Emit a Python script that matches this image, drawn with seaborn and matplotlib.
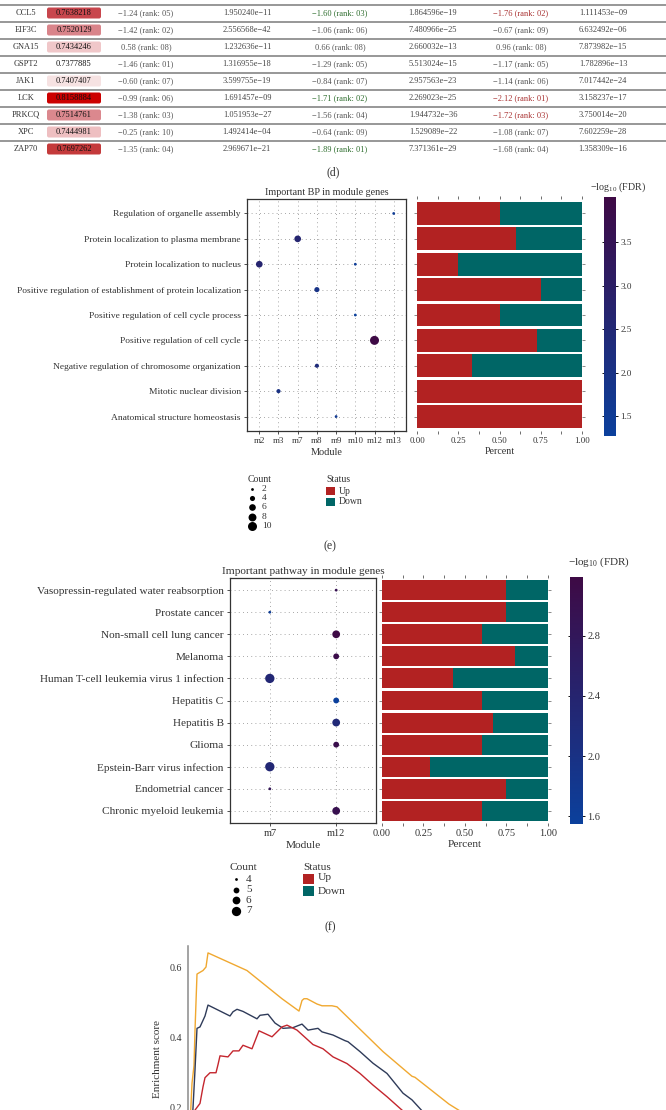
import numpy as np
import pandas as pd
import matplotlib
matplotlib.use("Agg")
import matplotlib.pyplot as plt
import seaborn as sns
from matplotlib.colors import LinearSegmentedColormap, Normalize
from matplotlib.patches import FancyBboxPatch, Rectangle
from matplotlib.ticker import FormatStrFormatter, MultipleLocator

# ------------------------------------------------------------------ data
genes = ['CCL5', 'EIF3C', 'GNA15', 'GSPT2', 'JAK1', 'LCK', 'PRKCQ', 'XPC', 'ZAP70']
auc = [0.7638218, 0.7520129, 0.7434246, 0.7377885, 0.7407407, 0.8158884, 0.7514761, 0.7444981, 0.7697262]
lfc1 = [-1.24, -1.42, 0.58, -1.46, -0.60, -0.99, -1.38, -0.25, -1.35]
rank1 = [5, 2, 8, 1, 7, 6, 3, 10, 4]
padj1 = ['1.950240e−11', '2.556568e−42', '1.232636e−11', '1.316955e−18', '3.599755e−19',
         '1.691457e−09', '1.051953e−27', '1.492414e−04', '2.969671e−21']
lfc2 = [-1.60, -1.06, 0.66, -1.29, -0.84, -1.71, -1.56, -0.64, -1.89]
rank2 = [3, 6, 8, 5, 7, 2, 4, 9, 1]
padj2 = ['1.864596e−19', '7.480966e−25', '2.660032e−13', '5.513024e−15', '2.957563e−23',
         '2.269023e−25', '1.944732e−36', '1.529089e−22', '7.371361e−29']
lfc3 = [-1.76, -0.67, 0.96, -1.17, -1.14, -2.12, -1.72, -1.08, -1.68]
rank3 = [2, 9, 8, 5, 6, 1, 3, 7, 4]
padj3 = ['1.111453e−09', '6.632492e−06', '7.873982e−15', '1.782896e−13', '7.017442e−24',
         '3.158237e−17', '3.750014e−20', '7.602259e−28', '1.358309e−16']

bp_terms = ['Regulation of organelle assembly', 'Protein localization to plasma membrane',
            'Protein localization to nucleus',
            'Positive regulation of establishment of protein localization',
            'Positive regulation of cell cycle process', 'Positive regulation of cell cycle',
            'Negative regulation of chromosome organization', 'Mitotic nuclear division',
            'Anatomical structure homeostasis']
bp_modules = ['m2', 'm3', 'm7', 'm8', 'm9', 'm10', 'm12', 'm13']
bp_dot_term = ['Regulation of organelle assembly', 'Protein localization to plasma membrane',
               'Protein localization to nucleus', 'Protein localization to nucleus',
               'Positive regulation of establishment of protein localization',
               'Positive regulation of cell cycle process', 'Positive regulation of cell cycle',
               'Negative regulation of chromosome organization', 'Mitotic nuclear division',
               'Anatomical structure homeostasis']
bp_dot_module = ['m13', 'm7', 'm2', 'm10', 'm8', 'm10', 'm12', 'm8', 'm3', 'm9']
bp_dot_count = [2, 6, 6, 2, 4, 2, 10, 3, 3, 2]
bp_dot_fdr = [1.50, 2.65, 2.70, 1.45, 1.95, 1.27, 4.02, 2.35, 2.05, 1.60]
bp_up = [0.50, 0.60, 0.25, 0.75, 0.50, 0.727, 0.333, 1.00, 1.00]
bp_count_legend = [2, 4, 6, 8, 10]

pw_terms = ['Vasopressin-regulated water reabsorption', 'Prostate cancer',
            'Non-small cell lung cancer', 'Melanoma', 'Human T-cell leukemia virus 1 infection',
            'Hepatitis C', 'Hepatitis B', 'Glioma', 'Epstein-Barr virus infection',
            'Endometrial cancer', 'Chronic myeloid leukemia']
pw_modules = ['m7', 'm12']
pw_dot_module = ['m12', 'm7', 'm12', 'm12', 'm7', 'm12', 'm12', 'm12', 'm7', 'm7', 'm12']
pw_dot_count = [4, 4, 6, 5, 7, 5, 6, 5, 7, 4, 6]
pw_dot_fdr = [2.95, 1.65, 3.19, 3.10, 2.30, 1.55, 2.25, 3.05, 2.30, 2.85, 3.00]
pw_up = [0.75, 0.75, 0.60, 0.80, 0.43, 0.60, 0.67, 0.60, 0.29, 0.75, 0.60]
pw_count_legend = [4, 5, 6, 7]

es_orange_rank = [0, 90, 180, 270, 315, 405, 675, 810, 900, 2655, 4230, 4995, 5130, 5220, 5355,
                  5805, 6030, 6480, 6705, 8775, 10080, 10215, 11745, 12915, 14940, 16200]
es_orange = [0.0, 0.15, 0.27, 0.32, 0.42, 0.58, 0.59, 0.60, 0.64, 0.59, 0.51, 0.475, 0.505, 0.51,
             0.51, 0.495, 0.49, 0.49, 0.487, 0.36, 0.29, 0.287, 0.211, 0.165, 0.06, 0.0]
es_navy_rank = [45, 135, 225, 315, 405, 540, 765, 900, 1125, 1890, 2025, 2205, 2475, 3105, 3240,
                3600, 3915, 4275, 4725, 5130, 5400, 5850, 6030, 6525, 7065, 7200, 7740, 8325,
                8955, 9675, 10080, 10575, 11790, 14040, 14715]
es_navy = [0.0, 0.12, 0.2, 0.308, 0.426, 0.43, 0.461, 0.492, 0.485, 0.461, 0.473, 0.48, 0.474,
           0.453, 0.463, 0.466, 0.441, 0.426, 0.428, 0.438, 0.421, 0.426, 0.416, 0.407, 0.391,
           0.388, 0.36, 0.327, 0.298, 0.242, 0.223, 0.189, 0.13, 0.03, 0.0]
es_red_rank = [90, 180, 270, 315, 540, 675, 765, 990, 1260, 1350, 1440, 1800, 2025, 2295, 2475,
               2880, 3195, 3780, 4230, 4455, 4905, 5625, 6075, 6525, 7155, 7740, 8325, 8955,
               9630, 10890, 13140, 13815]
es_red = [0.0, 0.08, 0.15, 0.194, 0.213, 0.26, 0.286, 0.30, 0.30, 0.323, 0.348, 0.345, 0.362,
          0.362, 0.378, 0.368, 0.419, 0.402, 0.43, 0.435, 0.421, 0.38, 0.368, 0.345, 0.326,
          0.298, 0.265, 0.232, 0.194, 0.13, 0.03, 0.0]

# ------------------------------------------------------------------ style
sns.set_style("white")
plt.rcParams['font.family'] = ['Liberation Serif', 'DejaVu Serif']
plt.rcParams['mathtext.fontset'] = 'custom'
plt.rcParams['mathtext.rm'] = 'Liberation Serif'
plt.rcParams['mathtext.it'] = 'Liberation Serif:italic'

RED = '#B22222'
TEAL = '#006666'
TXT = '#333333'
fdr_cmap = LinearSegmentedColormap.from_list('fdr', ['#0B409C', '#3E0A45'])
auc_cmap = LinearSegmentedColormap.from_list(
    'auc', [(0, '#ffffff'), (0.04, '#f5dede'), (0.08, '#eec0c2'), (0.18, '#d9848a'),
            (0.33, '#c8474e'), (0.41, '#c43a3a'), (1.0, '#cc0000')])

W, H = 666, 1110
fig = plt.figure(figsize=(W / 100, H / 100), dpi=100)


def rect(x0, y0, x1, y1):
    return [x0 / W, 1 - y1 / H, (x1 - x0) / W, (y1 - y0) / H]


ov = fig.add_axes([0, 0, 1, 1])
ov.set_xlim(0, W)
ov.set_ylim(H, 0)
ov.axis('off')

# ------------------------------------------------------------------ (d) table
fs_t = 6.0
auc_norm = Normalize(min(auc), max(auc))
col_x = [26, 74, 146, 247, 340, 433, 521, 603]


def fmt(v, r):
    return f'{v:.2f} (rank: {r:02d})'.replace('-', '−')


for i, g in enumerate(genes):
    y = 13 + 17 * i
    ov.plot([0, W], [y - 8.5, y - 8.5], color='#8f8f8f', lw=1.3, zorder=1)
    ov.add_patch(FancyBboxPatch((47, y - 5.5), 54, 11,
                                boxstyle='round,pad=0,rounding_size=2',
                                fc=auc_cmap(auc_norm(auc[i])), ec='none'))
    ov.text(col_x[0], y, g, ha='center', va='center', fontsize=fs_t, color=TXT)
    ov.text(col_x[1], y, f'{auc[i]:.7f}', ha='center', va='center', fontsize=fs_t, color='#111')
    ov.text(col_x[2], y, fmt(lfc1[i], rank1[i]), ha='center', va='center', fontsize=fs_t, color='#555')
    ov.text(col_x[3], y, padj1[i], ha='center', va='center', fontsize=fs_t, color='#444')
    ov.text(col_x[4], y, fmt(lfc2[i], rank2[i]), ha='center', va='center', fontsize=fs_t,
            color='#2f6e2f' if rank2[i] <= 3 else '#555')
    ov.text(col_x[5], y, padj2[i], ha='center', va='center', fontsize=fs_t, color='#444')
    ov.text(col_x[6], y, fmt(lfc3[i], rank3[i]), ha='center', va='center', fontsize=fs_t,
            color='#a83030' if rank3[i] <= 3 else '#555')
    ov.text(col_x[7], y, padj3[i], ha='center', va='center', fontsize=fs_t, color='#444')

ov.text(333, 172, '(d)', ha='center', va='center', fontsize=8.5, color=TXT)


# ------------------------------------------------------------------ helpers
def dot_panel(ax, terms, modules, dterm, dmod, dcount, dfdr, norm, sizes, size_norm,
              fs_lab, fs_tick, pad):
    df = pd.DataFrame({'term': dterm, 'module': dmod, 'count': dcount, 'fdr': dfdr})
    df['x'] = df['module'].map({m: k for k, m in enumerate(modules)})
    df['y'] = df['term'].map({t: k for k, t in enumerate(terms)})
    sns.scatterplot(data=df, x='x', y='y', hue='fdr', palette=fdr_cmap, hue_norm=norm,
                    size='count', sizes=sizes, size_norm=size_norm, legend=False,
                    linewidth=0, ax=ax, zorder=3)
    ax.set_xticks(range(len(modules)))
    ax.set_xticklabels(modules, fontsize=fs_tick, color=TXT)
    ax.set_yticks(range(len(terms)))
    ax.set_yticklabels(terms, fontsize=fs_lab, color=TXT)
    ax.set_xlim(-pad[0], len(modules) - 1 + pad[0])
    ax.set_ylim(len(terms) - 1 + pad[1], -pad[1])
    ax.grid(True, color='#8a8a8a', lw=0.6, linestyle=(0, (1, 4)))
    ax.set_axisbelow(True)
    for s in ax.spines.values():
        s.set_color('#333')
        s.set_linewidth(0.9)
    ax.tick_params(axis='both', length=2.5, width=0.6, color='#333', pad=2,
                   left=True, bottom=True)
    ax.set_ylabel('')


def bar_panel(ax, terms, up, ylim, fs_tick, fs_lab):
    df = pd.DataFrame({'term': terms, 'up': up, 'total': [1.0] * len(terms)})
    sns.barplot(data=df, x='total', y='term', order=terms, color=TEAL, width=0.9,
                saturation=1, errorbar=None, linewidth=0, ax=ax)
    sns.barplot(data=df, x='up', y='term', order=terms, color=RED, width=0.9,
                saturation=1, errorbar=None, linewidth=0, ax=ax)
    ax.set_xlim(0, 1)
    ax.set_ylim(*ylim)
    ax.set_yticks(range(len(terms)))
    ax.set_yticklabels([])
    ax.set_ylabel('')
    ax.set_xticks([0, 0.25, 0.5, 0.75, 1.0])
    ax.xaxis.set_major_formatter(FormatStrFormatter('%.2f'))
    ax.xaxis.set_minor_locator(MultipleLocator(0.125))
    ax.tick_params(axis='x', which='both', length=2, width=0.6, color='#555',
                   labelsize=fs_tick, labelcolor=TXT, pad=2, bottom=True, top=True)
    ax.tick_params(axis='y', length=2, width=0.6, color='#777', left=True, right=True)
    for s in ax.spines.values():
        s.set_visible(False)
    ax.set_xlabel('Percent', fontsize=fs_lab, color=TXT, labelpad=2)


def colorbar(cax, norm, ticks, fs):
    sm = plt.cm.ScalarMappable(norm=norm, cmap=fdr_cmap)
    cb = fig.colorbar(sm, cax=cax)
    cb.outline.set_visible(False)
    cb.set_ticks(ticks)
    cax.yaxis.set_major_formatter(FormatStrFormatter('%.1f'))
    cax.tick_params(axis='y', length=2.5, width=0.7, color='#111', labelsize=fs,
                    labelcolor=TXT, left=True, right=True, direction='inout', pad=2)


def size_of(c, sizes, size_norm):
    return sizes[0] + (c - size_norm[0]) / (size_norm[1] - size_norm[0]) * (sizes[1] - sizes[0])


# ------------------------------------------------------------------ (e)
bp_norm = Normalize(min(bp_dot_fdr), max(bp_dot_fdr))
ax_e = fig.add_axes(rect(247, 199, 406, 431))
dot_panel(ax_e, bp_terms, bp_modules, bp_dot_term, bp_dot_module, bp_dot_count, bp_dot_fdr,
          bp_norm, (4, 42), (2, 10), 6.8, 6.4, (0.64, 0.57))
ax_e.set_xlabel('Module', fontsize=7.4, color=TXT, labelpad=2)
ax_e.set_title('Important BP in module genes', fontsize=7.3, color=TXT, pad=3)

ax_eb = fig.add_axes(rect(417, 199, 582, 431))
bar_panel(ax_eb, bp_terms, bp_up, ax_e.get_ylim(), 6.4, 7.2)

cax_e = fig.add_axes(rect(604, 197, 616, 436))
colorbar(cax_e, bp_norm, [1.5, 2.0, 2.5, 3.0, 3.5], 6.6)
ov.text(618, 194, r'$\mathrm{-log_{10}}$ (FDR)', ha='center', va='bottom', fontsize=7.2, color=TXT)

ov.text(248, 480, 'Count', ha='left', va='center', fontsize=7, color=TXT)
for k, c in enumerate(bp_count_legend):
    yy = 489 + 9.2 * k
    ov.scatter(252, yy, s=size_of(c, (4, 42), (2, 10)), color='black', lw=0)
    ov.text(262, yy, str(c), ha='left', va='center', fontsize=6.8, color=TXT)
ov.text(326, 480, 'Status', ha='left', va='center', fontsize=7, color=TXT)
ov.add_patch(Rectangle((326, 487), 9, 8, fc=RED, ec='none'))
ov.add_patch(Rectangle((326, 498), 9, 8, fc=TEAL, ec='none'))
ov.text(339, 491, 'Up', ha='left', va='center', fontsize=7, color=TXT)
ov.text(339, 502, 'Down', ha='left', va='center', fontsize=7, color=TXT)
ov.text(330, 546, '(e)', ha='center', va='center', fontsize=8.5, color=TXT)

# ------------------------------------------------------------------ (f)
pw_norm = Normalize(min(pw_dot_fdr), max(pw_dot_fdr))
ax_f = fig.add_axes(rect(230, 578, 376, 823))
dot_panel(ax_f, pw_terms, pw_modules, pw_terms, pw_dot_module, pw_dot_count, pw_dot_fdr,
          pw_norm, (4, 45), (4, 7), 8.1, 7.5, (0.6, 0.55))
ax_f.set_xlabel('Module', fontsize=8.2, color=TXT, labelpad=2)
ax_f.set_title('Important pathway in module genes', fontsize=8.1, color=TXT, pad=3)

ax_fb = fig.add_axes(rect(382, 578, 548, 823))
bar_panel(ax_fb, pw_terms, pw_up, ax_f.get_ylim(), 7.5, 8.2)

cax_f = fig.add_axes(rect(570, 577, 583, 824))
colorbar(cax_f, pw_norm, [1.6, 2.0, 2.4, 2.8], 7.5)
ov.text(599, 569, r'$\mathrm{-log_{10}}$ (FDR)', ha='center', va='bottom', fontsize=8, color=TXT)

ov.text(230, 867, 'Count', ha='left', va='center', fontsize=8.2, color=TXT)
for k, c in enumerate(pw_count_legend):
    yy = 879 + 10.6 * k
    ov.scatter(236, yy, s=size_of(c, (4, 45), (4, 7)), color='black', lw=0)
    ov.text(246, yy, str(c), ha='left', va='center', fontsize=8, color=TXT)
ov.text(303, 867, 'Status', ha='left', va='center', fontsize=8.2, color=TXT)
ov.add_patch(Rectangle((303, 874), 11, 10, fc=RED, ec='none'))
ov.add_patch(Rectangle((303, 886), 11, 10, fc=TEAL, ec='none'))
ov.text(318, 878, 'Up', ha='left', va='center', fontsize=8.2, color=TXT)
ov.text(318, 891, 'Down', ha='left', va='center', fontsize=8.2, color=TXT)
ov.text(330, 927, '(f)', ha='center', va='center', fontsize=8.5, color=TXT)

# ------------------------------------------------------------------ enrichment curve
ax_g = fig.add_axes(rect(188, 946, 640, 1172))
es = pd.concat([
    pd.DataFrame({'rank': es_orange_rank, 'es': es_orange, 'set': 'A'}),
    pd.DataFrame({'rank': es_navy_rank, 'es': es_navy, 'set': 'B'}),
    pd.DataFrame({'rank': es_red_rank, 'es': es_red, 'set': 'C'}),
])
sns.lineplot(data=es, x='rank', y='es', hue='set',
             palette={'A': '#F0A830', 'B': '#2F3B59', 'C': '#C4262E'},
             lw=1.0, legend=False, ax=ax_g, sort=False, estimator=None)
ax_g.set_xlim(0, 20340)
ax_g.set_ylim(0.0184, 0.6596)
ax_g.set_yticks([0.2, 0.4, 0.6])
ax_g.yaxis.set_major_formatter(FormatStrFormatter('%.1f'))
ax_g.set_xticks([])
ax_g.set_xlabel('')
ax_g.set_ylabel('Enrichment score', fontsize=8, color=TXT, labelpad=6)
ax_g.tick_params(axis='y', length=0, pad=4, labelsize=7.2, labelcolor=TXT)
for name, s in ax_g.spines.items():
    s.set_visible(name == 'left')
ax_g.spines['left'].set_color('#8a8a8a')
ax_g.spines['left'].set_linewidth(1.1)

fig.savefig('out.png', dpi=100, facecolor='white')
